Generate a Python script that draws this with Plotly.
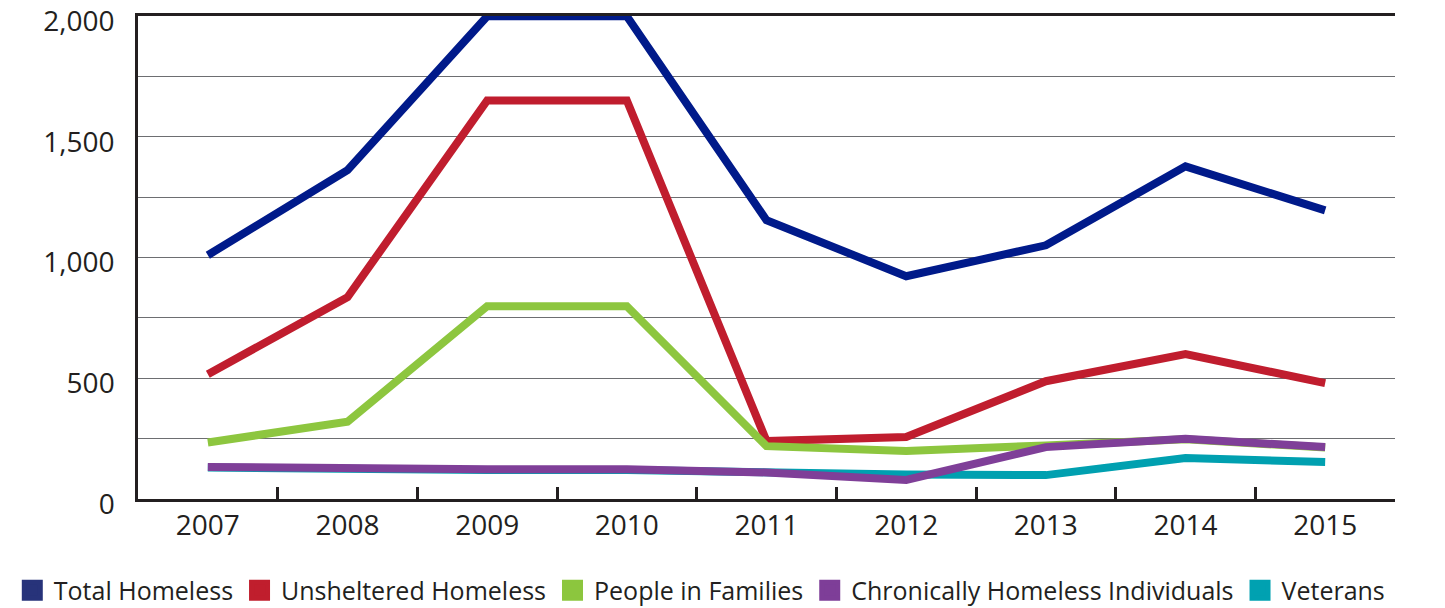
import plotly.graph_objects as go

years = ["2007", "2008", "2009", "2010", "2011", "2012", "2013", "2014", "2015"]

total_homeless = [1010, 1362, 2000, 2000, 1155, 923, 1051, 1378, 1196]
unsheltered = [517, 836, 1651, 1651, 240, 257, 488, 600, 480]
families = [234, 320, 799, 799, 219, 199, 222, 248, 213]
chronic = [133, 125, 123, 123, 110, 79, 215, 250, 215]
veterans = [130, 122, 120, 120, 110, 102, 99, 170, 153]

series_names = [
    "Total Homeless",
    "Unsheltered Homeless",
    "People in Families",
    "Chronically Homeless Individuals",
    "Veterans",
]
line_colors = ["#001a8a", "#c01d2e", "#8dc63f", "#7f3f98", "#00a0b0"]
swatch_colors = ["#27337a", "#c01e2d", "#8cc63e", "#7e3e98", "#00a1b1"]
series_values = [total_homeless, unsheltered, families, chronic, veterans]

# drawing order: navy, red, green, teal, purple (purple sits on top)
draw_order = [0, 1, 2, 4, 3]

fig = go.Figure()
for i in draw_order:
    fig.add_trace(go.Scatter(
        x=years, y=series_values[i], mode="lines",
        line=dict(color=line_colors[i], width=8),
        cliponaxis=False, showlegend=False, hoverinfo="x+y",
        name=series_names[i],
    ))

# square legend swatches
for rank, (name, col) in enumerate(zip(series_names, swatch_colors)):
    fig.add_trace(go.Scatter(
        x=[None], y=[None], mode="markers", name=name,
        marker=dict(symbol="square", size=18, color=col,
                    line=dict(color=col, width=5)),
        legendrank=rank + 1,
    ))

text_color = "#231f20"
fig.update_layout(
    width=1445, height=608,
    margin=dict(l=138, r=50, t=16, b=109, autoexpand=False),
    paper_bgcolor="white", plot_bgcolor="white",
    font=dict(family="Open Sans", color=text_color, size=28),
    showlegend=True,
    legend=dict(
        orientation="h", x=-0.1012, xanchor="left", y=-0.142, yanchor="top",
        font=dict(family="Open Sans", size=25, color=text_color),
        itemsizing="trace", tracegroupgap=0, itemwidth=33,
    ),
    xaxis=dict(
        type="category", range=[-0.5, 8.5],
        showline=True, linecolor=text_color, linewidth=2.5, mirror=True,
        ticks="inside", tickson="boundaries", ticklen=12, tickwidth=2.5,
        tickcolor=text_color, showgrid=False, zeroline=False,
        tickfont=dict(size=28, family="Open Sans"),
    ),
    yaxis=dict(
        range=[0, 2001], tick0=0, dtick=500, tickformat=",",
        showline=True, linecolor=text_color, linewidth=2.5,
        showgrid=True, gridcolor="#6d6e71", gridwidth=1.3,
        minor=dict(dtick=250, showgrid=True, gridcolor="#6d6e71", gridwidth=1.3),
        zeroline=False, ticks="", ticklabelstandoff=15, ticklabelshift=5,
        ticklabeloverflow="allow",
        tickfont=dict(size=28, family="Open Sans"),
    ),
)

fig.write_html("out.html")
